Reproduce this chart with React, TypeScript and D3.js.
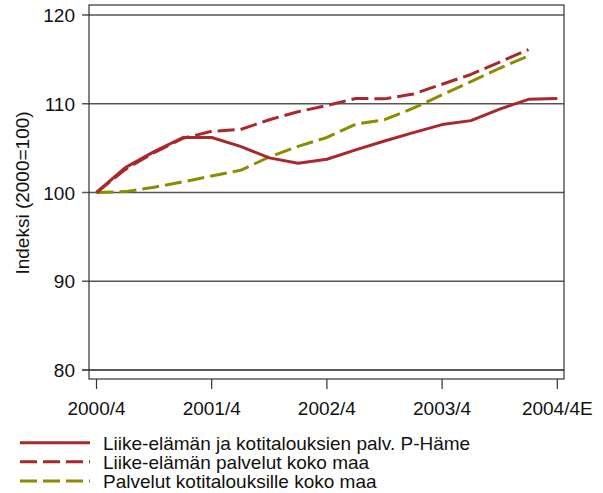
import { useEffect, useRef } from 'react';
import * as d3 from 'd3';

// quarterly index values, 2000/4 .. 2004/4E
const quarterTicks = ['2000/4', '2001/4', '2002/4', '2003/4', '2004/4E'];
const yTicks = [80, 90, 100, 110, 120];

const phameServices = [100, 102.8, 104.6, 106.2, 106.2, 105.2, 103.9, 103.3, 103.75, 104.8, 105.8, 106.75, 107.65, 108.1, 109.4, 110.5, 110.6];
const businessWholeCountry = [100, 102.6, 104.5, 106.1, 106.9, 107.1, 108.2, 109.1, 109.8, 110.6, 110.55, 111.1, 112.2, 113.3, 114.7, 116.1];
const householdWholeCountry = [100, 100.1, 100.6, 101.2, 101.85, 102.5, 104.0, 105.2, 106.2, 107.7, 108.2, 109.5, 111.0, 112.5, 114.0, 115.4];

const seriesNames = [
  'Liike-elämän ja kotitalouksien palv. P-Häme',
  'Liike-elämän palvelut koko maa',
  'Palvelut kotitalouksille koko maa',
];

const RED = '#a8282c';
const OLIVE = '#8c8c00';
const FONT = '"Liberation Sans", Arial, sans-serif';

export default function App() {
  const svgRef = useRef<SVGSVGElement>(null);

  useEffect(() => {
    if (!svgRef.current) return;
    const svg = d3.select(svgRef.current);
    svg.selectAll('*').remove();

    const box = { left: 89, right: 564, top: 5, bottom: 379 };

    const x = d3.scaleLinear().domain([0, 16]).range([96.5, 557.3]);
    const y = d3.scaleLinear().domain([80, 120]).range([370, 15]);

    // gridlines + y ticks
    svg.append('g')
      .selectAll('line')
      .data(yTicks)
      .enter()
      .append('line')
      .attr('x1', 82)
      .attr('x2', box.right)
      .attr('y1', d => y(d))
      .attr('y2', d => y(d))
      .attr('stroke', d => (d === 80 ? '#222' : '#555'))
      .attr('stroke-width', 1.3);

    svg.append('g')
      .selectAll('text')
      .data(yTicks)
      .enter()
      .append('text')
      .attr('x', 75)
      .attr('y', d => y(d) + 7)
      .attr('text-anchor', 'end')
      .attr('font-family', FONT)
      .attr('font-size', '19px')
      .attr('fill', '#111')
      .text(d => d);

    // plot region outline
    svg.append('rect')
      .attr('x', box.left)
      .attr('y', box.top)
      .attr('width', box.right - box.left)
      .attr('height', box.bottom - box.top)
      .attr('fill', 'none')
      .attr('stroke', '#333')
      .attr('stroke-width', 1.2);

    // x ticks
    const xt = svg.append('g');
    xt.selectAll('line')
      .data(quarterTicks)
      .enter()
      .append('line')
      .attr('x1', (d, i) => x(i * 4))
      .attr('x2', (d, i) => x(i * 4))
      .attr('y1', box.bottom)
      .attr('y2', box.bottom + 10)
      .attr('stroke', '#333')
      .attr('stroke-width', 1.2);
    xt.selectAll('text')
      .data(quarterTicks)
      .enter()
      .append('text')
      .attr('x', (d, i) => x(i * 4))
      .attr('y', 415)
      .attr('text-anchor', 'middle')
      .attr('font-family', FONT)
      .attr('font-size', '19px')
      .attr('fill', '#111')
      .text(d => d);

    // y axis title
    svg.append('text')
      .attr('transform', 'translate(29,193) rotate(-90)')
      .attr('text-anchor', 'middle')
      .attr('font-family', FONT)
      .attr('font-size', '19px')
      .attr('fill', '#111')
      .text('Indeksi (2000=100)');

    const line = d3.line<number>()
      .x((d, i) => x(i))
      .y(d => y(d));

    const series = [
      { values: phameServices, color: RED, dash: null },
      { values: businessWholeCountry, color: RED, dash: '17,6' },
      { values: householdWholeCountry, color: OLIVE, dash: '17,6' },
    ];

    series.slice().reverse().forEach(s => {
      svg.append('path')
        .datum(s.values)
        .attr('d', line)
        .attr('fill', 'none')
        .attr('stroke', s.color)
        .attr('stroke-width', 3)
        .attr('stroke-dasharray', s.dash)
        .attr('stroke-linejoin', 'round');
    });

    // legend
    const legendY = [442.7, 461.7, 481];
    const legend = svg.append('g');
    series.forEach((s, i) => {
      legend.append('line')
        .attr('x1', 20)
        .attr('x2', 90)
        .attr('y1', legendY[i])
        .attr('y2', legendY[i])
        .attr('stroke', s.color)
        .attr('stroke-width', 3)
        .attr('stroke-dasharray', s.dash);
      legend.append('text')
        .attr('x', 103)
        .attr('y', legendY[i] + 7)
        .attr('font-family', FONT)
        .attr('font-size', '19px')
        .attr('fill', '#111')
        .text(seriesNames[i]);
    });
  }, []);

  return (
    <svg
      ref={svgRef}
      width={603}
      height={493}
      style={{ position: 'absolute', left: 0, top: 0, background: '#fff' }}
    />
  );
}
